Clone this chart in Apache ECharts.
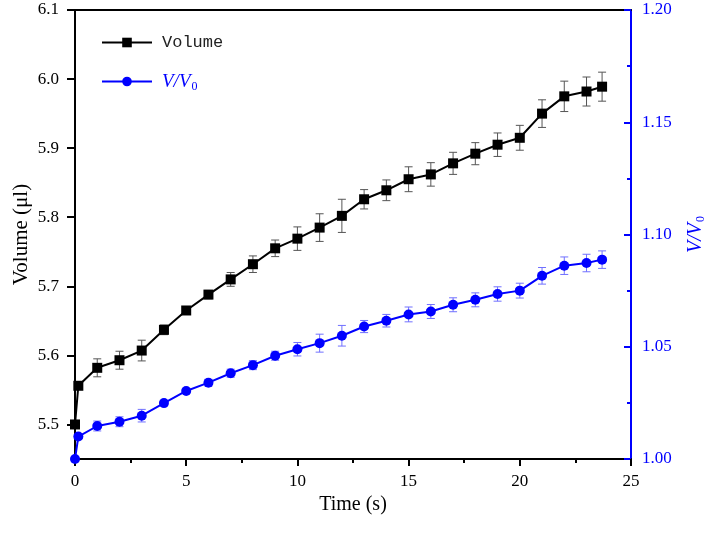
<!DOCTYPE html>
<html>
<head>
<meta charset="utf-8">
<script src="https://cdn.jsdelivr.net/npm/echarts@6/dist/echarts.min.js"></script>
<style>
  html, body { margin: 0; padding: 0; background: #fff; }
  #main { width: 710px; height: 537px; }
</style>
</head>
<body>
<div id="main"></div>
<script>
// time points (s)
var timeS = [0, 0.15, 1, 2, 3, 4, 5, 6, 7, 8, 9, 10, 11, 12, 13, 14, 15, 16, 17, 18, 19, 20, 21, 22, 23, 23.7];
// volume (ul) and its error
var volume = [5.5, 5.556, 5.582, 5.593, 5.607, 5.637, 5.665, 5.688, 5.71, 5.732, 5.755, 5.769, 5.785, 5.802, 5.826, 5.839, 5.855, 5.862, 5.878, 5.892, 5.905, 5.915, 5.95, 5.975, 5.982, 5.989];
var volumeErr = [0, 0.004, 0.013, 0.013, 0.015, 0.007, 0.005, 0.006, 0.01, 0.012, 0.012, 0.017, 0.02, 0.024, 0.014, 0.015, 0.018, 0.017, 0.016, 0.016, 0.017, 0.018, 0.02, 0.022, 0.021, 0.021];
// V/V0 and its error
var ratio = [1.0, 1.010, 1.0147, 1.0166, 1.0193, 1.0249, 1.0303, 1.034, 1.0382, 1.0418, 1.046, 1.0489, 1.0516, 1.0549, 1.059, 1.0616, 1.0644, 1.0657, 1.0687, 1.0709, 1.0735, 1.075, 1.0816, 1.0861, 1.0873, 1.0888];
var ratioErr = [0, 0.001, 0.0022, 0.0022, 0.0028, 0.001, 0.001, 0.0015, 0.0018, 0.002, 0.002, 0.003, 0.004, 0.0046, 0.0027, 0.0028, 0.0033, 0.0031, 0.0031, 0.0031, 0.0032, 0.0033, 0.0037, 0.0039, 0.0039, 0.0039];
// tick labels
var leftTicks = [5.5, 5.6, 5.7, 5.8, 5.9, 6.0, 6.1];

var serif = '"Liberation Serif", "DejaVu Serif", serif';
var blue = '#0000ff';

function pairs(xs, ys) {
    var out = [];
    for (var i = 0; i < xs.length; i++) out.push([xs[i], ys[i]]);
    return out;
}
function errData(xs, ys, es) {
    var out = [];
    for (var i = 0; i < xs.length; i++) {
        if (es[i] > 0) out.push([xs[i], ys[i] - es[i], ys[i] + es[i]]);
    }
    return out;
}
function errRender(color) {
    return function (params, api) {
        var lo = api.coord([api.value(0), api.value(1)]);
        var hi = api.coord([api.value(0), api.value(2)]);
        var w = 4;
        var st = { stroke: color, lineWidth: 1 };
        return {
            type: 'group',
            children: [
                { type: 'line', shape: { x1: lo[0], y1: lo[1], x2: hi[0], y2: hi[1] }, style: st },
                { type: 'line', shape: { x1: lo[0] - w, y1: lo[1], x2: lo[0] + w, y2: lo[1] }, style: st },
                { type: 'line', shape: { x1: hi[0] - w, y1: hi[1], x2: hi[0] + w, y2: hi[1] }, style: st }
            ]
        };
    };
}

var myChart = echarts.init(document.getElementById('main'));

var option = {
    animation: false,
    grid: { left: 75, right: 79, top: 10, bottom: 78, outerBoundsMode: 'none', containLabel: false },
    legend: {
        orient: 'vertical',
        left: 96,
        top: 29,
        itemWidth: 50,
        itemHeight: 12,
        itemGap: 21,
        data: ['Volume', 'V/V0'],
        formatter: function (name) {
            return name === 'V/V0' ? '{i|V/V}{s|0}' : '{m|' + name + '}';
        },
        textStyle: {
            padding: [0, 0, 0, 5],
            rich: {
                m: { fontFamily: '"Liberation Mono", monospace', fontSize: 17, color: '#222' },
                i: { fontFamily: serif, fontStyle: 'italic', fontSize: 19, color: blue },
                s: { fontFamily: serif, fontSize: 12, color: blue, padding: [10, 0, 0, 1] }
            }
        }
    },
    xAxis: [{
        type: 'value',
        min: 0, max: 25, interval: 5,
        name: 'Time (s)',
        nameLocation: 'middle',
        nameGap: 34,
        nameTextStyle: { fontFamily: serif, fontSize: 20, color: '#000' },
        axisLine: { onZero: false, lineStyle: { color: '#000', width: 2 } },
        axisTick: { length: 7, lineStyle: { width: 2, color: '#000' } },
        minorTick: { show: true, splitNumber: 2, length: 4, lineStyle: { width: 2, color: '#000' } },
        axisLabel: { fontFamily: serif, fontSize: 17, color: '#000', margin: 14 },
        splitLine: { show: false }
    }, {
        type: 'value',
        position: 'top',
        min: 0, max: 25,
        axisLine: { show: true, onZero: false, lineStyle: { color: '#000', width: 2 } },
        axisTick: { show: false },
        axisLabel: { show: false },
        splitLine: { show: false }
    }],
    yAxis: [{
        type: 'value',
        position: 'left',
        min: 5.45, max: 6.1,
        name: 'Volume (μl)',
        nameLocation: 'middle',
        nameGap: 43,
        nameMoveOverlap: false,
        nameTextStyle: { fontFamily: serif, fontSize: 21, color: '#000' },
        axisLine: { show: true, onZero: false, lineStyle: { color: '#000', width: 2 } },
        axisTick: { length: 8, customValues: leftTicks, lineStyle: { width: 2, color: '#000' } },
        axisLabel: {
            customValues: leftTicks,
            fontFamily: serif, fontSize: 17, color: '#000', margin: 16,
            formatter: function (v) { return v.toFixed(1); }
        },
        splitLine: { show: false }
    }, {
        type: 'value',
        position: 'right',
        min: 1.0, max: 1.2, interval: 0.05,
        name: '{i|V/V}{s|0}',
        nameLocation: 'middle',
        nameGap: 54,
        nameRotate: 90,
        nameTextStyle: {
            rich: {
                i: { fontFamily: serif, fontStyle: 'italic', fontSize: 20, color: blue },
                s: { fontFamily: serif, fontSize: 12, color: blue, padding: [10, 0, 0, 1] }
            }
        },
        axisLine: { show: true, onZero: false, lineStyle: { color: blue, width: 2 } },
        axisTick: { inside: true, length: 7, lineStyle: { width: 2, color: blue } },
        minorTick: { show: true, splitNumber: 2, length: 4, lineStyle: { width: 2, color: blue } },
        axisLabel: {
            fontFamily: serif, fontSize: 17, color: blue, margin: 11,
            formatter: function (v) { return v.toFixed(2); }
        },
        splitLine: { show: false }
    }],
    series: [{
        name: 'Volume err',
        type: 'custom',
        xAxisIndex: 0, yAxisIndex: 0,
        renderItem: errRender('#555'),
        data: errData(timeS, volume, volumeErr),
        z: 1
    }, {
        name: 'V/V0 err',
        type: 'custom',
        xAxisIndex: 0, yAxisIndex: 1,
        renderItem: errRender('#7070ff'),
        data: errData(timeS, ratio, ratioErr),
        z: 1
    }, {
        name: 'Volume',
        type: 'line',
        xAxisIndex: 0, yAxisIndex: 0,
        data: pairs(timeS, volume),
        symbol: 'rect',
        symbolSize: 10,
        color: '#000',
        lineStyle: { color: '#000', width: 2 },
        itemStyle: { color: '#000' },
        z: 3
    }, {
        name: 'V/V0',
        type: 'line',
        xAxisIndex: 0, yAxisIndex: 1,
        data: pairs(timeS, ratio),
        symbol: 'circle',
        symbolSize: 10,
        color: blue,
        lineStyle: { color: blue, width: 2 },
        itemStyle: { color: blue },
        z: 3
    }]
};

myChart.setOption(option);
</script>
</body>
</html>
